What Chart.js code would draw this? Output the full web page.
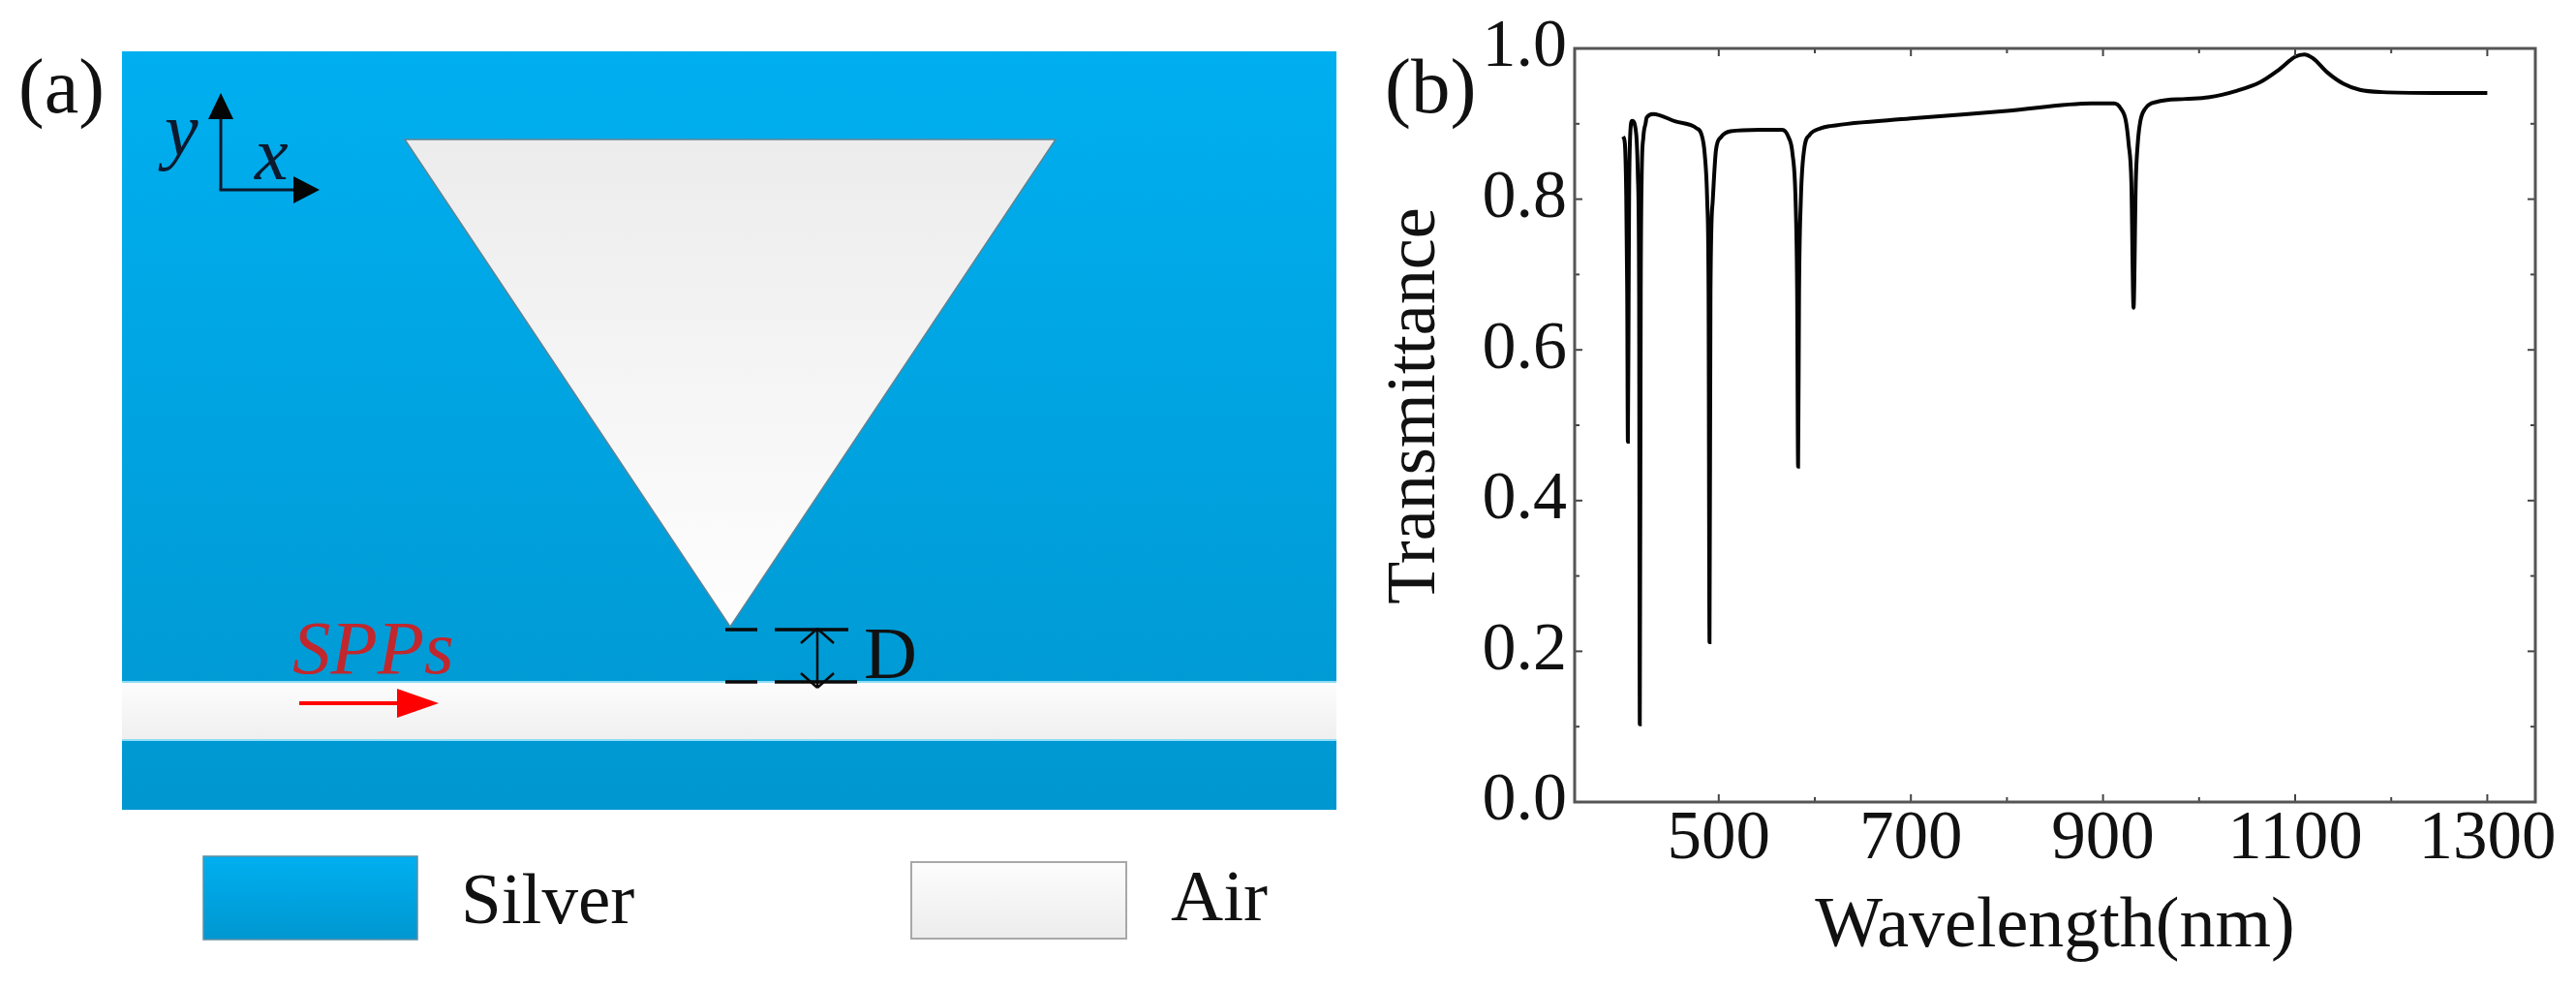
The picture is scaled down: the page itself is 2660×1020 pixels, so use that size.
<!DOCTYPE html>
<html>
<head>
<meta charset="utf-8">
<title>Transmittance</title>
<script src="https://cdn.jsdelivr.net/npm/chart.js@4/dist/chart.umd.min.js"></script>
<style>
html, body { margin: 0; padding: 0; background: #fff; }
body { width: 2660px; height: 1020px; position: relative; overflow: hidden; }
canvas { position: absolute; top: 0; filter: blur(0.7px); }
#panel-a { left: 0; }
#panel-b { left: 1400px; }
</style>
</head>
<body>
<canvas id="panel-a" width="1400" height="1020"></canvas>
<canvas id="panel-b" width="1260" height="1020"></canvas>
<script>
// spectrum
const wavelength = [400.4, 402.2, 403.7, 404.7, 405.4, 406.2, 406.7, 407.7, 409.8, 414.1, 415.8, 417.1, 417.8,
    418.8, 419.8, 421.5, 423.9, 424.9, 431.6, 455, 477, 482, 485.3, 488, 489.4, 490.4,
    491.4, 493.7, 497.1, 502.2, 512.2, 542.5, 566, 572.7, 576.7, 580, 581.6, 582.6,
    583.6, 585.4, 588.8, 594.5, 606.3, 616.4, 700, 800, 888.4, 911.6, 918.6, 923.7, 926.7, 929.5, 931.8,
    934.1, 936.1, 938.8, 943.9, 955.6, 985.9, 1009.4, 1039.7, 1063.2, 1083.3, 1100.1, 1109.4, 1118.5,
    1133.6, 1150.4, 1167.3, 1190.7, 1244, 1300];
const transmittance = [0.883, 0.875, 0.805, 0.677, 0.478, 0.677, 0.805, 0.882, 0.904, 0.886, 0.831, 0.677, 0.103,
    0.677, 0.831, 0.882, 0.901, 0.908, 0.913, 0.903, 0.894, 0.886, 0.861, 0.797, 0.677, 0.212,
    0.677, 0.797, 0.865, 0.882, 0.89, 0.892, 0.892, 0.882, 0.861, 0.797, 0.677, 0.445,
    0.677, 0.797, 0.865, 0.885, 0.894, 0.897, 0.907, 0.917, 0.927, 0.927, 0.92, 0.904, 0.873, 0.822, 0.656,
    0.822, 0.873, 0.903, 0.92, 0.929, 0.933, 0.935, 0.944, 0.955, 0.972, 0.989, 0.992, 0.987,
    0.968, 0.953, 0.945, 0.942, 0.941, 0.941];
const xTickValues = [500, 700, 900, 1100, 1300];
const xMinorValues = [600, 800, 1000, 1200];
const yTickValues = [0, 0.2, 0.4, 0.6, 0.8, 1.0];
const yMinorValues = [0.1, 0.3, 0.5, 0.7, 0.9];

// panel (a) outlines, in the picture's own units
const silverBlock = [126, 53, 1380, 836];
const airChannel = [126, 704, 1380, 764];
const airTriangle = [[418, 144], [1090, 144], [754, 647]];
const legendSilverBox = [210, 884, 431, 970];
const legendAirBox = [941, 890, 1163, 969];
const dashSegments = [[749, 650, 782, 650], [800, 650, 876, 650], [749, 704, 782, 704], [800, 704, 885, 704]];

const SERIF = '"Liberation Serif", "Times New Roman", serif';

function vGradient(ctx, y0, y1, c0, c1) {
    const g = ctx.createLinearGradient(0, y0, 0, y1);
    g.addColorStop(0, c0);
    g.addColorStop(1, c1);
    return g;
}

function arrowHead(ctx, tip, base, half, color) {
    // tip and base share one axis
    ctx.fillStyle = color;
    ctx.beginPath();
    ctx.moveTo(tip[0], tip[1]);
    if (tip[1] === base[1]) {
        ctx.lineTo(base[0], base[1] - half);
        ctx.lineTo(base[0], base[1] + half);
    } else {
        ctx.lineTo(base[0] - half, base[1]);
        ctx.lineTo(base[0] + half, base[1]);
    }
    ctx.closePath();
    ctx.fill();
}

const schematicPlugin = {
    id: 'schematic',
    afterDraw(chart) {
        const { ctx } = chart;
        const sx = chart.scales.x, sy = chart.scales.y;
        const X = v => sx.getPixelForValue(v);
        const Y = v => sy.getPixelForValue(v);
        const box = (r, fill, stroke, lw) => {
            ctx.fillStyle = fill;
            ctx.fillRect(X(r[0]), Y(r[1]), X(r[2]) - X(r[0]), Y(r[3]) - Y(r[1]));
            if (stroke) {
                ctx.strokeStyle = stroke;
                ctx.lineWidth = lw;
                ctx.strokeRect(X(r[0]), Y(r[1]), X(r[2]) - X(r[0]), Y(r[3]) - Y(r[1]));
            }
        };
        const line = (x0, y0, x1, y1, color, lw) => {
            ctx.strokeStyle = color;
            ctx.lineWidth = lw;
            ctx.beginPath();
            ctx.moveTo(X(x0), Y(y0));
            ctx.lineTo(X(x1), Y(y1));
            ctx.stroke();
        };
        const text = (s, x, y, font, color, align) => {
            ctx.font = font;
            ctx.fillStyle = color || '#111';
            ctx.textAlign = align || 'left';
            ctx.textBaseline = 'alphabetic';
            ctx.fillText(s, X(x), Y(y));
        };

        ctx.save();
        // silver film
        box(silverBlock, vGradient(ctx, Y(53), Y(836), '#00aff0', '#0097d0'));

        // air slit
        box(airChannel, vGradient(ctx, Y(704), Y(764), '#fdfdfd', '#efefef'));
        line(126, 704, 1380, 704, '#8fdcf5', 2);
        line(126, 764, 1380, 764, '#8fdcf5', 2);

        // triangular cavity
        ctx.fillStyle = vGradient(ctx, Y(144), Y(647), '#ececec', '#fefefe');
        ctx.strokeStyle = '#5f8494';
        ctx.lineWidth = 1.5;
        ctx.beginPath();
        airTriangle.forEach((p, i) => i ? ctx.lineTo(X(p[0]), Y(p[1])) : ctx.moveTo(X(p[0]), Y(p[1])));
        ctx.closePath();
        ctx.fill();
        ctx.stroke();

        // coordinate arrows
        line(228, 196, 228, 123, '#0b1a2e', 3);
        line(226.5, 196, 303, 196, '#0b1a2e', 3);
        arrowHead(ctx, [X(228), Y(96)], [X(228), Y(123)], 13, '#050505');
        arrowHead(ctx, [X(330), Y(196)], [X(303), Y(196)], 14, '#050505');
        text('y', 170, 160, 'italic 78px ' + SERIF, '#0b1a2e');
        text('x', 263, 185, 'italic 78px ' + SERIF, '#0b1a2e');

        // SPPs label and arrow
        text('SPPs', 302, 695, 'italic 79px ' + SERIF, '#c1272d');
        line(309, 726, 410, 726, '#f00', 4);
        arrowHead(ctx, [X(453), Y(726)], [X(410), Y(726)], 15, '#f00');

        // gap D
        dashSegments.forEach(d => line(d[0], d[1], d[2], d[3], '#0a0a0a', 3.5));
        line(844, 649, 844, 710, '#0a0a0a', 2.5);
        line(827, 664, 844, 649, '#0a0a0a', 2.5);
        line(861, 664, 844, 649, '#0a0a0a', 2.5);
        line(827, 695, 844, 710, '#0a0a0a', 2.5);
        line(861, 695, 844, 710, '#0a0a0a', 2.5);
        text('D', 892, 700, '76px ' + SERIF);

        // legend
        box(legendSilverBox, vGradient(ctx, Y(884), Y(970), '#00aff0', '#0097d0'), '#5d8ea3', 1.5);
        box(legendAirBox, vGradient(ctx, Y(890), Y(969), '#fdfdfd', '#ececec'), '#a8a8a8', 2);
        text('Silver', 476, 953, '75px ' + SERIF);
        text('Air', 1209, 950, '75px ' + SERIF);

        text('(a)', 19, 116, '80px ' + SERIF);
        ctx.restore();
    }
};

const frameTicksPlugin = {
    id: 'frameTicks',
    afterDatasetsDraw(chart) {
        const { ctx, chartArea: a } = chart;
        const sx = chart.scales.x, sy = chart.scales.y;
        ctx.save();
        ctx.strokeStyle = '#444';
        ctx.lineWidth = 2;
        const tick = (x0, y0, x1, y1) => {
            ctx.beginPath();
            ctx.moveTo(x0, y0);
            ctx.lineTo(x1, y1);
            ctx.stroke();
        };
        const xTicks = (vals, len) => vals.forEach(v => {
            const p = sx.getPixelForValue(v);
            tick(p, a.bottom, p, a.bottom - len);
            tick(p, a.top, p, a.top + len);
        });
        const yTicks = (vals, len) => vals.forEach(v => {
            const p = sy.getPixelForValue(v);
            tick(a.left, p, a.left + len, p);
            tick(a.right, p, a.right - len, p);
        });
        xTicks(xTickValues, 8);
        xTicks(xMinorValues, 5);
        yTicks(yTickValues, 8);
        yTicks(yMinorValues, 5);
        ctx.lineWidth = 3;
        ctx.strokeStyle = '#555';
        ctx.strokeRect(a.left, a.top, a.right - a.left, a.bottom - a.top);
        ctx.restore();
    }
};

// (b) tag and the y title, which sits above the middle of the axis
const panelLabelPlugin = {
    id: 'panelLabel',
    afterDraw(chart) {
        const { ctx } = chart;
        ctx.save();
        ctx.font = '81px ' + SERIF;
        ctx.fillStyle = '#111';
        ctx.textAlign = 'left';
        ctx.textBaseline = 'alphabetic';
        ctx.fillText('(b)', 30, 116);
        ctx.translate(81, 419);
        ctx.rotate(-Math.PI / 2);
        ctx.font = '72px ' + SERIF;
        ctx.textAlign = 'center';
        ctx.fillText('Transmittance', 0, 0);
        ctx.restore();
    }
};

new Chart(document.getElementById('panel-a').getContext('2d'), {
    type: 'scatter',
    data: { datasets: [] },
    plugins: [schematicPlugin],
    options: {
        responsive: false,
        animation: false,
        devicePixelRatio: 1,
        layout: { padding: 0 },
        plugins: { legend: { display: false }, tooltip: { enabled: false } },
        scales: {
            x: { type: 'linear', min: 0, max: 1400, display: false },
            y: { type: 'linear', min: 0, max: 1020, reverse: true, display: false }
        }
    }
});

new Chart(document.getElementById('panel-b').getContext('2d'), {
    type: 'line',
    data: {
        datasets: [{
            label: 'Transmittance',
            data: wavelength.map((w, i) => ({ x: w, y: transmittance[i] })),
            borderColor: '#050505',
            borderWidth: 4,
            pointRadius: 0,
            cubicInterpolationMode: 'monotone',
            fill: false
        }]
    },
    plugins: [frameTicksPlugin, panelLabelPlugin],
    options: {
        responsive: false,
        animation: false,
        devicePixelRatio: 1,
        layout: { padding: { top: 47, right: 42, left: 0, bottom: 0 } },
        plugins: { legend: { display: false }, tooltip: { enabled: false } },
        scales: {
            x: {
                type: 'linear',
                min: 350,
                max: 1350,
                afterBuildTicks: s => { s.ticks = xTickValues.map(v => ({ value: v })); },
                afterFit: s => { s.height = 192; },
                grid: { display: false, drawTicks: false },
                border: { display: false },
                ticks: {
                    autoSkip: false,
                    maxRotation: 0,
                    padding: -3,
                    color: '#111',
                    callback: v => String(v),
                    font: { family: SERIF, size: 71 }
                },
                title: {
                    display: true,
                    text: 'Wavelength(nm)',
                    color: '#111',
                    padding: { top: 4, bottom: 18 },
                    font: { family: SERIF, size: 74 }
                }
            },
            y: {
                type: 'linear',
                min: 0,
                max: 1,
                afterBuildTicks: s => { s.ticks = yTickValues.map(v => ({ value: v })); },
                afterFit: s => { s.width = 226; },
                grid: { display: false, drawTicks: false },
                border: { display: false },
                ticks: {
                    autoSkip: false,
                    padding: 8,
                    color: '#111',
                    callback: v => v.toFixed(1),
                    font: { family: SERIF, size: 70 }
                }
            }
        }
    }
});
</script>
</body>
</html>
